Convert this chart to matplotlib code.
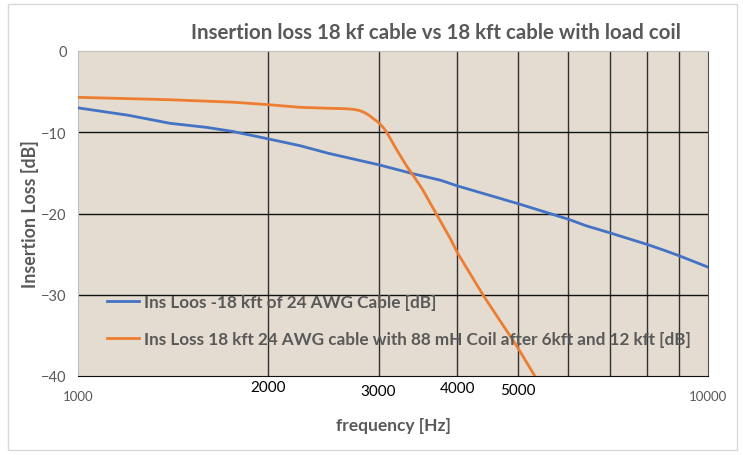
import matplotlib.pyplot as plt
from matplotlib.patches import Rectangle
from matplotlib.ticker import NullLocator

plt.rcParams['font.family'] = ['Lato', 'DejaVu Sans']

# data
freq_blue = [1000, 1200, 1400, 1600, 1760, 2000, 2250, 2500, 3000, 3400, 3760,
             4000, 5000, 6000, 6400, 7000, 8000, 8500, 9000, 10000]
loss_blue = [-7.0, -7.9, -8.9, -9.4, -9.9, -10.8, -11.65, -12.6, -14.0, -15.1,
             -15.9, -16.6, -18.8, -20.7, -21.5, -22.4, -23.8, -24.5, -25.2, -26.6]

freq_orange = [1000, 1400, 1760, 2000, 2250, 2500, 2650, 2730, 2790, 2840, 2890,
               2940, 3000, 3050, 3090, 3200, 3320, 3410, 3520, 3900, 4000, 4400,
               4970, 5310]
loss_orange = [-5.7, -6.0, -6.3, -6.6, -6.93, -7.05, -7.1, -7.17, -7.3, -7.52, -7.85,
               -8.3, -8.8, -9.4, -10.0, -12.06, -14.1, -15.4, -17.0, -23.1, -24.8,
               -30.1, -36.3, -40.0]

label_blue = 'Ins Loos -18 kft of 24 AWG Cable [dB]'
label_orange = 'Ins Loss 18 kft 24 AWG cable with 88 mH Coil after 6kft and 12 kft [dB]'

xtick_vals = [1000, 2000, 3000, 4000, 5000, 10000]
grid_x = [2000, 3000, 4000, 5000, 6000, 7000, 8000, 9000]
grid_y = [-10, -20, -30]

gray = '#595959'

fig = plt.figure(figsize=(7.43, 4.56), dpi=100)
fig.patches.append(Rectangle((8 / 743, 5 / 456), 729 / 743, 446 / 456,
                             transform=fig.transFigure, fill=False,
                             edgecolor='#D9D9D9', lw=1))
ax = fig.add_axes([78 / 743, 79 / 456, 630 / 743, 325 / 456])
ax.set_facecolor('#E4DCD0')

ax.set_xscale('log')
ax.set_xlim(1000, 10000)
ax.set_ylim(-40, 0)

for g in grid_x:
    ax.axvline(g, color='#303030', lw=1, zorder=1)
for g in grid_y:
    ax.axhline(g, color='#111111', lw=1, zorder=1)

ax.plot(freq_blue, loss_blue, color='#4472C4', lw=2, label=label_blue, zorder=3)
ax.plot(freq_orange, loss_orange, color='#ED7D31', lw=2, label=label_orange, zorder=3)

ax.spines['top'].set_color('#BFBFBF')
ax.spines['left'].set_color('#BFBFBF')
ax.spines['bottom'].set_color('#111111')
ax.spines['right'].set_color('#505050')

ax.xaxis.set_major_locator(NullLocator())
ax.xaxis.set_minor_locator(NullLocator())
ax.set_yticks([0, -10, -20, -30, -40])
ax.tick_params(axis='y', length=0, pad=8, labelsize=10.5, labelcolor=gray)

# staggered x tick labels as in the reference
xt_off = [-0.062, -0.034, -0.046, -0.037, -0.043, -0.062]
xt_big = [False, True, True, True, True, False]
for v, off, big in zip(xtick_vals, xt_off, xt_big):
    ax.text(v, off, str(v), transform=ax.get_xaxis_transform(), ha='center', va='center',
            fontsize=11 if big else 9.5, color='black' if big else gray)

ax.text(0.5, -0.15, 'frequency [Hz]', transform=ax.transAxes, ha='center', va='center',
        fontsize=12.5, fontweight='bold', color=gray)
ax.set_ylabel('Insertion Loss [dB]', fontsize=12.8, fontweight='bold', color=gray, labelpad=2)

fig.text(436 / 743, 1 - 33 / 456, 'Insertion loss 18 kf cable vs 18 kft cable with load coil',
         ha='center', va='center', fontsize=14.8, fontweight='bold', color=gray)

leg = ax.legend(loc='upper left', bbox_to_anchor=(0.035, 0.273), frameon=False,
                prop={'weight': 'bold', 'size': 12.3}, handlelength=1.9,
                handletextpad=0.3, labelspacing=1.2, borderaxespad=0)
for t in leg.get_texts():
    t.set_color(gray)

fig.savefig('out.png', dpi=100)
